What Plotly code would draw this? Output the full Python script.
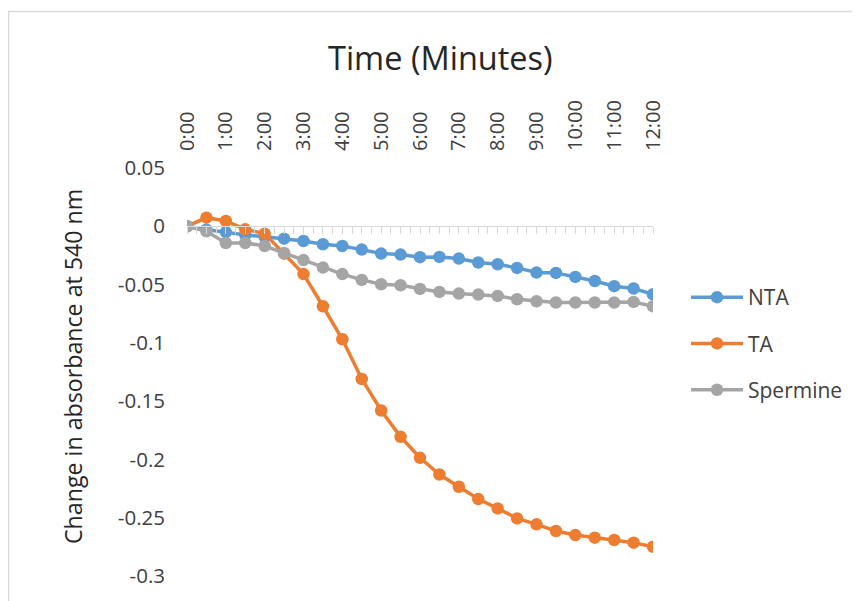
import plotly.graph_objects as go

# ---------------- data ----------------
time_labels = ["0:00", "0:30", "1:00", "1:30", "2:00", "2:30", "3:00", "3:30", "4:00",
               "4:30", "5:00", "5:30", "6:00", "6:30", "7:00", "7:30", "8:00", "8:30",
               "9:00", "9:30", "10:00", "10:30", "11:00", "11:30", "12:00"]

nta = [0, -0.003, -0.005, -0.0075, -0.009, -0.0106, -0.0126, -0.0154, -0.0169, -0.020,
       -0.0234, -0.0243, -0.0265, -0.0263, -0.0277, -0.0311, -0.0326, -0.0357, -0.0397,
       -0.0400, -0.0434, -0.0469, -0.0514, -0.0534, -0.0583]
ta = [0, 0.0074, 0.0046, -0.0026, -0.0063, -0.0235, -0.041, -0.0686, -0.0969, -0.131,
      -0.158, -0.1806, -0.1986, -0.2129, -0.2234, -0.234, -0.242, -0.2506, -0.2557,
      -0.2614, -0.2649, -0.2671, -0.2691, -0.2714, -0.2749]
spermine = [0, -0.0043, -0.0143, -0.0143, -0.0169, -0.0229, -0.029, -0.0354, -0.041,
            -0.046, -0.0497, -0.0506, -0.0537, -0.0563, -0.0577, -0.0586, -0.0597,
            -0.0626, -0.0643, -0.0654, -0.0654, -0.0654, -0.0654, -0.0649, -0.0686]

x_tick_labels = ["0:00", "1:00", "2:00", "3:00", "4:00", "5:00", "6:00", "7:00",
                 "8:00", "9:00", "10:00", "11:00", "12:00"]
y_tick_vals = [0.05, 0, -0.05, -0.1, -0.15, -0.2, -0.25, -0.3]
y_tick_text = ["0.05", "0", "-0.05", "-0.1", "-0.15", "-0.2", "-0.25", "-0.3"]

series_names = ["NTA", "TA", "Spermine"]
series_colors = ["#5B9BD5", "#ED7D31", "#A5A5A5"]

# ---------------- helpers ----------------
def to_minutes(label):
    m, s = label.split(":")
    return int(m) + int(s) / 60.0

x_vals = [to_minutes(t) for t in time_labels]
x_tick_vals = [to_minutes(t) for t in x_tick_labels]

FONT = "'Open Sans', sans-serif"
TXT = "#404040"

fig = go.Figure()
for name, ys, col in zip(series_names, [nta, ta, spermine], series_colors):
    fig.add_trace(go.Scatter(
        x=x_vals, y=ys, name=name, mode="lines+markers",
        line=dict(color=col, width=3.5),
        marker=dict(color=col, size=12.5),
        legendgroup=name,
        customdata=time_labels,
        hovertemplate="%{customdata}: %{y}<extra>" + name + "</extra>",
    ))

# page offset (browser body margin) and plot area in page pixels
OFF = 8
W, H = 860 - OFF, 601 - OFF
PL, PR, PT, PB = 187, 653, 168, 576          # plot area in page pixels
L, R, T, B = PL - OFF, W - (PR - OFF), PT - OFF, H - (PB - OFF)
pw, ph = W - L - R, H - T - B

def px_to_paper_x(px):
    return (px - OFF - L) / pw

def px_to_paper_y(py):
    return (H - B - (py - OFF)) / ph

ymin, ymax = -0.3, 0.05
zero_pos = (0 - ymin) / (ymax - ymin)

fig.update_layout(
    width=W, height=H,
    margin=dict(l=L, r=R, t=T, b=B, autoexpand=False),
    paper_bgcolor="white", plot_bgcolor="white",
    font=dict(family=FONT, size=21, color=TXT),
    showlegend=True,
    legend=dict(
        x=px_to_paper_x(686), y=px_to_paper_y(277), xanchor="left", yanchor="top",
        font=dict(size=21, color=TXT), itemwidth=52, tracegroupgap=16,
        bgcolor="rgba(0,0,0,0)",
    ),
    xaxis=dict(
        range=[0, 12], side="top", tickmode="array",
        tickvals=x_tick_vals, ticktext=x_tick_labels, tickangle=-90,
        ticks="", ticklabelstandoff=16, showline=False, showgrid=False,
        zeroline=False, tickfont=dict(size=20, color=TXT), fixedrange=True,
    ),
    xaxis2=dict(
        range=[0, 12], overlaying="x", anchor="free", position=zero_pos,
        side="bottom", showline=True, linecolor="#D9D9D9", linewidth=1,
        ticks="outside", tick0=0, dtick=0.25, ticklen=7, tickcolor="#D9D9D9",
        tickwidth=1, showticklabels=False, showgrid=False, zeroline=False,
        fixedrange=True,
    ),
    yaxis=dict(
        range=[ymin, ymax], tickmode="array", tickvals=y_tick_vals,
        ticktext=y_tick_text, ticks="", ticklabelstandoff=21,
        showline=False, showgrid=False, zeroline=False,
        tickfont=dict(size=20.5, color=TXT), fixedrange=True,
    ),
)

# invisible trace to activate xaxis2 (axis line at y = 0)
fig.add_trace(go.Scatter(x=[0, 12], y=[0, 0], xaxis="x2", yaxis="y", mode="lines",
                         line=dict(width=0), showlegend=False, hoverinfo="skip"))

# chart title (horizontal axis title) and vertical axis title
fig.add_annotation(text="Time (Minutes)", xref="paper", yref="paper",
                   x=px_to_paper_x(440), y=px_to_paper_y(57), showarrow=False,
                   font=dict(size=32.5, color="#262626", family=FONT),
                   xanchor="center", yanchor="middle")
fig.add_annotation(text="Change in absorbance at 540 nm", xref="paper", yref="paper",
                   x=px_to_paper_x(73), y=px_to_paper_y(367), showarrow=False,
                   textangle=-90, font=dict(size=23.2, color="#262626", family=FONT),
                   xanchor="center", yanchor="middle")

# chart border (only top and left edges visible in the frame)
fig.add_shape(type="rect", xref="paper", yref="paper",
              x0=px_to_paper_x(8.5), x1=px_to_paper_x(880),
              y0=px_to_paper_y(620), y1=px_to_paper_y(11.5),
              line=dict(color="#D9D9D9", width=1.5), fillcolor="rgba(0,0,0,0)",
              layer="below")

fig.write_html("out.html")
